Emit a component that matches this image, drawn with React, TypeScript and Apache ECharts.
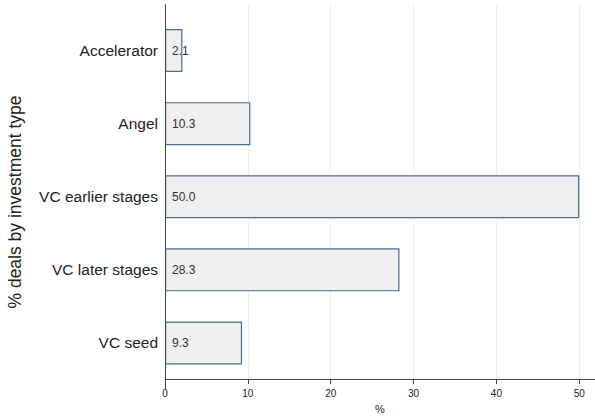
import React, { useEffect, useRef } from "react";
import * as echarts from "echarts";

const categories = ["Accelerator", "Angel", "VC earlier stages", "VC later stages", "VC seed"];
const values = [2.1, 10.3, 50.0, 28.3, 9.3];
const xTicks = [0, 10, 20, 30, 40, 50];
const xAxisTitle = "%";
const yAxisTitle = "% deals by investment type";

const X_MAX = 51.9;

export default function App() {
  const ref = useRef<HTMLDivElement>(null);
  useEffect(() => {
    document.body.style.margin = "0";
    if (!ref.current) return;
    const chart = echarts.init(ref.current, undefined, { renderer: "svg" });
    const font = "Liberation Sans, Arial, sans-serif";
    chart.setOption({
      animation: false,
      textStyle: { fontFamily: font },
      grid: [
        { left: 165, right: 0, top: 4, bottom: 29 },
        { left: 165, right: 0, top: 14, bottom: 39.5 },
      ],
      xAxis: [
        {
          type: "value",
          gridIndex: 0,
          min: 0,
          max: X_MAX,
          interval: 10,
          axisLine: { show: true, lineStyle: { color: "#444", width: 1 } },
          axisTick: { show: true, length: 5, lineStyle: { color: "#444" } },
          axisLabel: {
            color: "#222",
            fontSize: 10,
            margin: 9,
            showMaxLabel: false,
            formatter: (v: number) => (xTicks.indexOf(v) >= 0 ? String(v) : ""),
          },
          splitLine: { show: true, lineStyle: { color: "#e6eff2", width: 1 } },
          name: xAxisTitle,
          nameLocation: "middle",
          nameGap: 17,
          nameTextStyle: { color: "#222", fontSize: 11 },
        },
        {
          type: "value",
          gridIndex: 1,
          min: 0,
          max: X_MAX,
          show: false,
        },
      ],
      yAxis: [
        {
          type: "value",
          gridIndex: 0,
          show: false,
        },
        {
          type: "category",
          gridIndex: 1,
          data: categories,
          inverse: true,
          axisLine: { show: false },
          axisTick: { show: false },
          axisLabel: { color: "#222", fontSize: 15.5, margin: 7 },
        },
      ],
      graphic: [
        {
          type: "line",
          shape: { x1: 165.5, y1: 4, x2: 165.5, y2: 390 },
          style: { stroke: "#444", lineWidth: 1 },
          z: 100,
        },
        {
          type: "text",
          x: 15,
          y: 202,
          rotation: Math.PI / 2,
          style: {
            text: yAxisTitle,
            fill: "#222",
            fontSize: 17.5,
            fontFamily: font,
            align: "center",
            verticalAlign: "middle",
          },
        },
      ],
      series: [
        {
          type: "bar",
          xAxisIndex: 1,
          yAxisIndex: 1,
          data: values,
          barWidth: 43,
          itemStyle: { color: "#efefef", borderColor: "#4d6b8c", borderWidth: 1.2 },
          label: {
            show: true,
            position: "insideLeft",
            distance: 7,
            color: "#333",
            fontSize: 12,
            formatter: (p: any) => Number(p.value).toFixed(1),
          },
        },
      ],
    });
    return () => chart.dispose();
  }, []);
  return <div ref={ref} style={{ width: 595, height: 419 }} />;
}
